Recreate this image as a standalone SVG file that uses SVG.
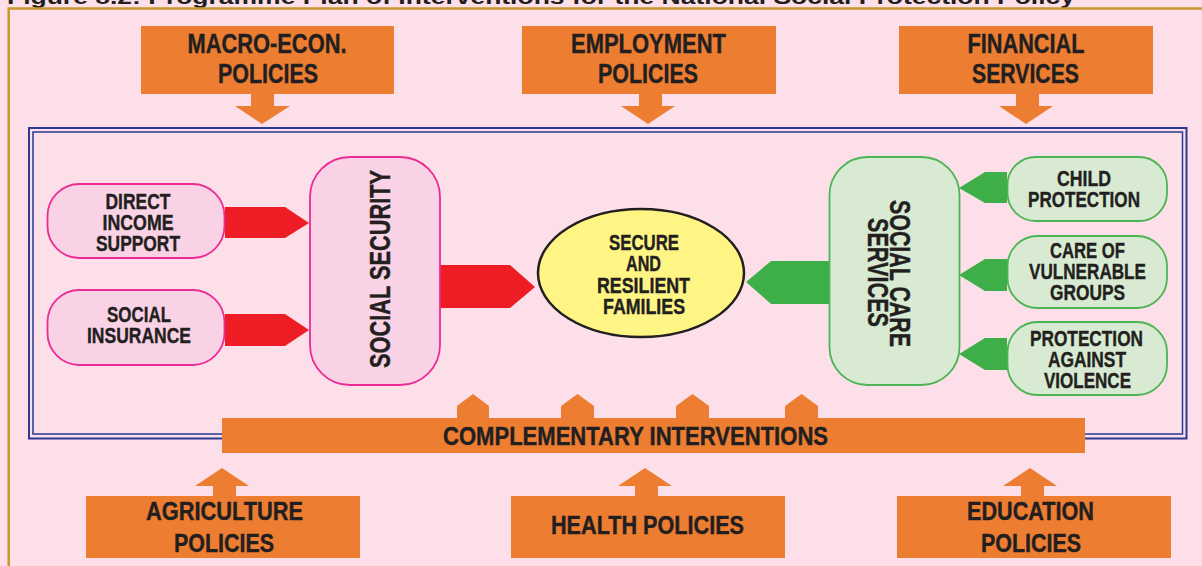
<svg xmlns="http://www.w3.org/2000/svg" width="1202" height="566" viewBox="0 0 1202 566">
<style>
.t{font-family:"Liberation Sans Narrow","Liberation Sans",Arial,sans-serif;font-weight:bold;fill:#231F20;stroke:#231F20;stroke-width:0.4;text-anchor:middle}
.org{fill:#ED7D31}
.pk{fill:#F9D3E5;stroke:#EC2B95;stroke-width:1.8}
.gr{fill:#D8EBD2;stroke:#4BB454;stroke-width:1.8}
.red{fill:#EE1C25}
.grn{fill:#3EAE49}
.s27{font-size:27px}
.s22{font-size:22px}
.s25{font-size:25px}
.s30{font-size:30px}
</style>
<rect width="1202" height="566" fill="#FCDFE8"/>
<text x="541" y="3.5" font-family="Liberation Sans,Arial,sans-serif" font-weight="bold" font-size="20" fill="#231F20" text-anchor="middle" textLength="1068" lengthAdjust="spacingAndGlyphs">Figure 8.2: Programme Plan of Interventions for the National Social Protection Policy</text>
<path d="M8.7 566 V8.5 H1202" fill="none" stroke="#C9962C" stroke-width="2.5"/>
<rect x="29" y="128" width="1157.5" height="310.5" fill="none" stroke="#2B3990" stroke-width="2"/>
<rect x="33" y="132" width="1149.5" height="302" fill="none" stroke="#2B3990" stroke-width="1.5"/>

<g id="connectors">
<polygon class="org" points="251,94 274,94 274,106 290,106 262,124 235,106 251,106"/>
<polygon class="org" points="639,94 662,94 662,106 675,106 648,124 621,106 639,106"/>
<polygon class="org" points="1016,94 1039,94 1039,106 1053,106 1026,124 999,106 1016,106"/>
<polygon class="red" points="225,207 285,207 309,223 285,238 225,238"/>
<polygon class="red" points="225,314 285,314 309,330 285,346 225,346"/>
<polygon class="red" points="440,265 510,265 535,287 510,308 440,308"/>
<polygon class="grn" points="829,261 771,261 746,282 771,304 829,304"/>
<polygon class="grn" points="1007,172 985,172 959,188 985,203 1007,203"/>
<polygon class="grn" points="1007,259 985,259 959,275 985,291 1007,291"/>
<polygon class="grn" points="1007,338 985,338 959,354 985,370 1007,370"/>
<polygon class="org" points="457,419 457,406 473,394 489,406 489,419"/>
<polygon class="org" points="561,419 561,406 577.5,394 594,406 594,419"/>
<polygon class="org" points="676,419 676,406 692.5,394 709,406 709,419"/>
<polygon class="org" points="785,419 785,406 801.5,394 818,406 818,419"/>
<polygon class="org" points="213,497 213,486 195,486 222,468 249,486 236,486 236,497"/>
<polygon class="org" points="635,497 635,486 618,486 645,468 672,486 658,486 658,497"/>
<polygon class="org" points="1021,497 1021,486 1003,486 1030,468 1057,486 1044,486 1044,497"/>
</g>

<g id="macro">
<rect class="org" x="141" y="26" width="253" height="68"/>
<text class="t s27" x="267" y="53" textLength="159" lengthAdjust="spacingAndGlyphs">MACRO-ECON.</text>
<text class="t s27" x="268" y="83" textLength="100" lengthAdjust="spacingAndGlyphs">POLICIES</text>
</g>
<g id="employment">
<rect class="org" x="522" y="26" width="254" height="68"/>
<text class="t s27" x="648.5" y="53" textLength="155" lengthAdjust="spacingAndGlyphs">EMPLOYMENT</text>
<text class="t s27" x="648" y="83" textLength="100" lengthAdjust="spacingAndGlyphs">POLICIES</text>
</g>
<g id="financial">
<rect class="org" x="899" y="26" width="254" height="68"/>
<text class="t s27" x="1026" y="53" textLength="117" lengthAdjust="spacingAndGlyphs">FINANCIAL</text>
<text class="t s27" x="1025.5" y="83" textLength="107" lengthAdjust="spacingAndGlyphs">SERVICES</text>
</g>

<g id="direct-income">
<rect class="pk" x="47.5" y="184" width="177" height="74" rx="32"/>
<text class="t s22" x="138" y="208.5" textLength="65" lengthAdjust="spacingAndGlyphs">DIRECT</text>
<text class="t s22" x="138" y="229.5" textLength="71" lengthAdjust="spacingAndGlyphs">INCOME</text>
<text class="t s22" x="138" y="250.5" textLength="84" lengthAdjust="spacingAndGlyphs">SUPPORT</text>
</g>
<g id="social-insurance">
<rect class="pk" x="47.5" y="290" width="177" height="75" rx="32"/>
<text class="t s22" x="139" y="322" textLength="64" lengthAdjust="spacingAndGlyphs">SOCIAL</text>
<text class="t s22" x="139" y="343" textLength="104" lengthAdjust="spacingAndGlyphs">INSURANCE</text>
</g>
<g id="social-security">
<rect class="pk" x="310" y="157" width="130" height="228" rx="40"/>
<text class="t s30" transform="translate(389.5,269) rotate(-90)" x="0" y="0" textLength="198" lengthAdjust="spacingAndGlyphs">SOCIAL SECURITY</text>
</g>
<g id="families">
<ellipse cx="641" cy="273" rx="103" ry="64" fill="#FFF584" stroke="#231F20" stroke-width="2.5"/>
<text class="t s22" x="644" y="250" textLength="70" lengthAdjust="spacingAndGlyphs">SECURE</text>
<text class="t s22" x="643.5" y="271" textLength="35" lengthAdjust="spacingAndGlyphs">AND</text>
<text class="t s22" x="643.5" y="292.5" textLength="93" lengthAdjust="spacingAndGlyphs">RESILIENT</text>
<text class="t s22" x="644" y="313.5" textLength="82" lengthAdjust="spacingAndGlyphs">FAMILIES</text>
</g>
<g id="social-care">
<rect class="gr" x="829.5" y="157" width="130" height="228" rx="38"/>
<text class="t s30" transform="translate(889.5,273.5) rotate(90)" x="0" y="0" textLength="147" lengthAdjust="spacingAndGlyphs">SOCIAL CARE</text>
<text class="t s30" transform="translate(867.5,272.5) rotate(90)" x="0" y="0" textLength="109" lengthAdjust="spacingAndGlyphs">SERVICES</text>
</g>
<g id="child-protection">
<rect class="gr" x="1007.5" y="157" width="159.5" height="64" rx="28"/>
<text class="t s22" x="1084" y="186" textLength="54" lengthAdjust="spacingAndGlyphs">CHILD</text>
<text class="t s22" x="1084" y="207" textLength="112" lengthAdjust="spacingAndGlyphs">PROTECTION</text>
</g>
<g id="vulnerable-groups">
<rect class="gr" x="1007.5" y="236" width="159.5" height="72" rx="30"/>
<text class="t s22" x="1087.5" y="258" textLength="75" lengthAdjust="spacingAndGlyphs">CARE OF</text>
<text class="t s22" x="1087.5" y="279" textLength="117" lengthAdjust="spacingAndGlyphs">VULNERABLE</text>
<text class="t s22" x="1087.5" y="300" textLength="75" lengthAdjust="spacingAndGlyphs">GROUPS</text>
</g>
<g id="violence">
<rect class="gr" x="1007.5" y="322" width="159.5" height="73" rx="30"/>
<text class="t s22" x="1086.5" y="346" textLength="113" lengthAdjust="spacingAndGlyphs">PROTECTION</text>
<text class="t s22" x="1087" y="367" textLength="78" lengthAdjust="spacingAndGlyphs">AGAINST</text>
<text class="t s22" x="1087.5" y="388" textLength="87" lengthAdjust="spacingAndGlyphs">VIOLENCE</text>
</g>
<g id="complementary">
<rect class="org" x="222" y="418" width="863" height="35"/>
<text class="t s25" x="635.5" y="445" textLength="385" lengthAdjust="spacingAndGlyphs">COMPLEMENTARY INTERVENTIONS</text>
</g>
<g id="agriculture">
<rect class="org" x="86" y="496" width="274" height="62"/>
<text class="t s25" x="224.5" y="520" textLength="157" lengthAdjust="spacingAndGlyphs">AGRICULTURE</text>
<text class="t s25" x="224" y="552" textLength="100" lengthAdjust="spacingAndGlyphs">POLICIES</text>
</g>
<g id="health">
<rect class="org" x="511" y="496" width="274" height="62"/>
<text class="t s25" x="647.5" y="534" textLength="193" lengthAdjust="spacingAndGlyphs">HEALTH POLICIES</text>
</g>
<g id="education">
<rect class="org" x="897" y="496" width="274" height="62"/>
<text class="t s25" x="1030.5" y="520" textLength="127" lengthAdjust="spacingAndGlyphs">EDUCATION</text>
<text class="t s25" x="1031" y="552" textLength="100" lengthAdjust="spacingAndGlyphs">POLICIES</text>
</g>
</svg>
